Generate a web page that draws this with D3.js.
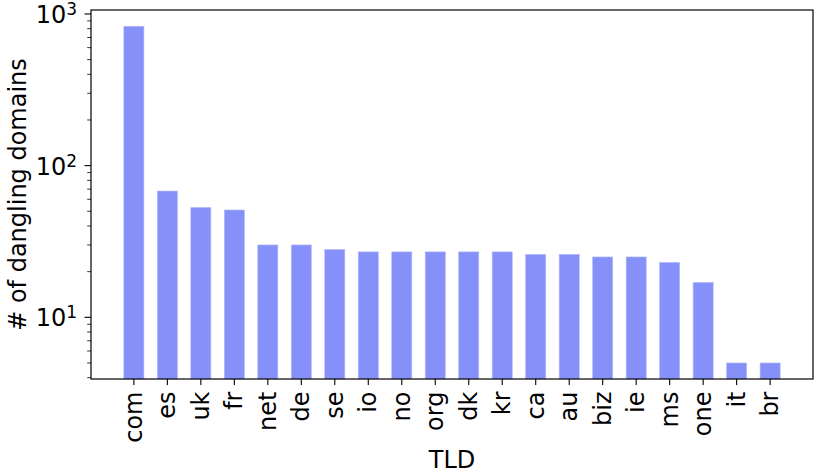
<!DOCTYPE html>
<html>
<head>
<meta charset="utf-8">
<script src="https://cdn.jsdelivr.net/npm/d3@7"></script>
<style>
  html, body { margin: 0; padding: 0; background: #fff; }
  text { font-family: "DejaVu Sans", sans-serif; fill: #000; }
</style>
</head>
<body>
<svg id="chart" width="830" height="475"></svg>
<script>
const categories = ["com","es","uk","fr","net","de","se","io","no","org","dk","kr","ca","au","biz","ie","ms","one","it","br"];
const values = [830, 68, 53, 51, 30, 30, 28, 27, 27, 27, 27, 27, 26, 26, 25, 25, 23, 17, 5, 5];
const yMajorTicks = [10, 100, 1000];
const yTickExponents = ["1", "2", "3"];
const xLabel = "TLD";
const yLabel = "# of dangling domains";

(function () {
const svg = d3.select("#chart");
const pL = 91, pR = 813, pT = 10, pB = 379;
const barColor = "#8591f8";
const fs = 24;

const x = d3.scaleLinear().domain([-1.28, categories.length - 1 + 1.28]).range([pL, pR]);
const y = d3.scaleLog().domain([3.92, 1062]).range([pB, pT]);
const barW = x(0.6) - x(0);

// bars
svg.append("g").selectAll("rect").data(values).join("rect")
  .attr("x", (d, i) => x(i) - barW / 2)
  .attr("width", barW)
  .attr("y", d => y(d))
  .attr("height", d => pB - y(d))
  .attr("fill", barColor)
  .attr("stroke", "#b3baf9")
  .attr("stroke-width", 0.6);

// frame
svg.append("rect")
  .attr("x", pL).attr("y", pT)
  .attr("width", pR - pL).attr("height", pB - pT)
  .attr("fill", "none").attr("stroke", "#000").attr("stroke-width", 1.2);

// x axis ticks
const xg = svg.append("g");
categories.forEach((c, i) => {
  xg.append("line")
    .attr("x1", x(i)).attr("x2", x(i))
    .attr("y1", pB).attr("y2", pB + 6)
    .attr("stroke", "#000").attr("stroke-width", 1.1);
  xg.append("text")
    .attr("transform", `translate(${x(i)},${pB + 12.5}) rotate(-90)`)
    .attr("text-anchor", "end")
    .attr("dy", 8)
    .attr("font-size", fs)
    .text(c);
});

// y minor ticks
const [d0, d1] = y.domain();
const minor = [];
for (let e = Math.floor(Math.log10(d0)); e <= Math.ceil(Math.log10(d1)); e++) {
  for (let m = 2; m <= 9; m++) {
    const v = m * Math.pow(10, e);
    if (v >= d0 && v <= d1) minor.push(v);
  }
}
svg.append("g").selectAll("line").data(minor).join("line")
  .attr("x1", pL - 3.8).attr("x2", pL)
  .attr("y1", d => y(d)).attr("y2", d => y(d))
  .attr("stroke", "#000").attr("stroke-width", 0.8);

// y major ticks
const yg = svg.append("g");
yMajorTicks.forEach((v, i) => {
  yg.append("line")
    .attr("x1", pL - 6.5).attr("x2", pL)
    .attr("y1", y(v)).attr("y2", y(v))
    .attr("stroke", "#000").attr("stroke-width", 1.1);
  const t = yg.append("text")
    .attr("x", pL - 14)
    .attr("y", y(v) + 9)
    .attr("text-anchor", "end")
    .attr("font-size", fs);
  t.append("tspan").text("10");
  t.append("tspan").attr("font-size", 17).attr("dy", -8).text(yTickExponents[i]);
});

// axis labels
svg.append("text")
  .attr("x", (pL + pR) / 2)
  .attr("y", 468)
  .attr("text-anchor", "middle")
  .attr("font-size", fs)
  .text(xLabel);

svg.append("text")
  .attr("transform", `translate(25.5,${(pT + pB) / 2}) rotate(-90)`)
  .attr("text-anchor", "middle")
  .attr("font-size", fs)
  .text(yLabel);
})();
</script>
</body>
</html>
